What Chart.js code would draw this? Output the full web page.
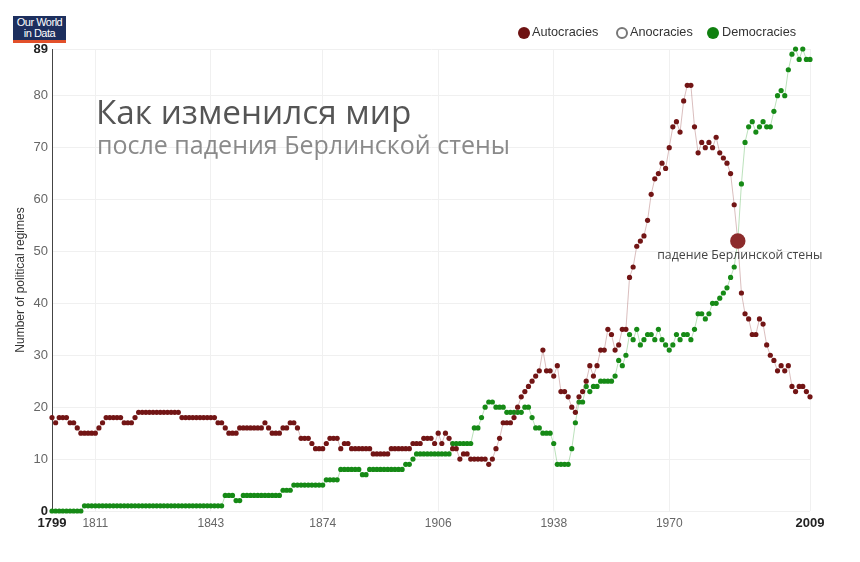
<!DOCTYPE html>
<html>
<head>
<meta charset="utf-8">
<script src="https://cdn.jsdelivr.net/npm/chart.js@4.4.1/dist/chart.umd.min.js"></script>
<title>Political regimes</title>
<style>
  body { margin: 0; background: #fff; }
  #wrap { position: relative; width: 860px; height: 562px; }
  #chart { position: absolute; left: 0; top: 0; }
  .logo { position: absolute; left: 13px; top: 16px; width: 53px; height: 23px; background: #1d2f5e;
          border-bottom: 3px solid #e2502a; color: #fff; font: 11px/10.5px "Liberation Sans", Arial, sans-serif;
          text-align: center; padding-top: 1px; box-sizing: content-box; letter-spacing: -0.5px; }
  .title { position: absolute; left: 96px; top: 88px; font: 33.3px "Open Sans", sans-serif; color: #555; white-space: nowrap; }
  .subtitle { position: absolute; left: 97px; top: 127px; font: 25px "Open Sans", sans-serif; color: #8a8a8a; white-space: nowrap; }
  .leg { position: absolute; top: 25px; font: 12.7px "Liberation Sans", Arial, sans-serif; color: #333; white-space: nowrap; }
  .dot { position: absolute; width: 12px; height: 12px; border-radius: 50%; top: 27px; box-sizing: border-box; }
</style>
</head>
<body>
<div id="wrap">
  <canvas id="chart" width="860" height="562"></canvas>
  <div class="logo">Our World<br>in Data</div>
  <div class="title">Как изменился мир</div>
  <div class="subtitle">после падения Берлинской стены</div>
  <div class="dot" style="left:518px;background:#6e1212;"></div>
  <div class="leg" style="left:532px;">Autocracies</div>
  <div class="dot" style="left:616px;border:2px solid #777;background:#fff;"></div>
  <div class="leg" style="left:630px;">Anocracies</div>
  <div class="dot" style="left:707px;background:#108010;"></div>
  <div class="leg" style="left:722px;">Democracies</div>
</div>
<script>
  const firstYear = 1799;

  // number of regimes per year, 1799 ... 2009
  const autocracies = [
    18,
    17, 18, 18, 18, 17, 17, 16, 15, 15, 15,
    15, 15, 16, 17, 18, 18, 18, 18, 18, 17,
    17, 17, 18, 19, 19, 19, 19, 19, 19, 19,
    19, 19, 19, 19, 19, 18, 18, 18, 18, 18,
    18, 18, 18, 18, 18, 17, 17, 16, 15, 15,
    15, 16, 16, 16, 16, 16, 16, 16, 17, 16,
    15, 15, 15, 16, 16, 17, 17, 16, 14, 14,
    14, 13, 12, 12, 12, 13, 14, 14, 14, 12,
    13, 13, 12, 12, 12, 12, 12, 12, 11, 11,
    11, 11, 11, 12, 12, 12, 12, 12, 12, 13,
    13, 13, 14, 14, 14, 13, 15, 13, 15, 14,
    12, 12, 10, 11, 11, 10, 10, 10, 10, 10,
    9, 10, 12, 14, 17, 17, 17, 18, 20, 22,
    23, 24, 25, 26, 27, 31, 27, 27, 26, 28,
    23, 23, 22, 20, 19, 22, 23, 25, 28, 26,
    28, 31, 31, 35, 34, 31, 32, 35, 35, 45,
    47, 51, 52, 53, 56, 61, 64, 65, 67, 66,
    70, 74, 75, 73, 79, 82, 82, 74, 69, 71,
    70, 71, 70, 72, 69, 68, 67, 65, 59, 52,
    42, 38, 37, 34, 34, 37, 36, 32, 30, 29,
    27, 28, 27, 28, 24, 23, 24, 24, 23, 22
  ];
  const democracies = [
    0,
    0, 0, 0, 0, 0, 0, 0, 0, 1, 1,
    1, 1, 1, 1, 1, 1, 1, 1, 1, 1,
    1, 1, 1, 1, 1, 1, 1, 1, 1, 1,
    1, 1, 1, 1, 1, 1, 1, 1, 1, 1,
    1, 1, 1, 1, 1, 1, 1, 3, 3, 3,
    2, 2, 3, 3, 3, 3, 3, 3, 3, 3,
    3, 3, 3, 4, 4, 4, 5, 5, 5, 5,
    5, 5, 5, 5, 5, 6, 6, 6, 6, 8,
    8, 8, 8, 8, 8, 7, 7, 8, 8, 8,
    8, 8, 8, 8, 8, 8, 8, 9, 9, 10,
    11, 11, 11, 11, 11, 11, 11, 11, 11, 11,
    13, 13, 13, 13, 13, 13, 16, 16, 18, 20,
    21, 21, 20, 20, 20, 19, 19, 19, 19, 19,
    20, 20, 18, 16, 16, 15, 15, 15, 13, 9,
    9, 9, 9, 12, 17, 21, 21, 24, 23, 24,
    24, 25, 25, 25, 25, 26, 29, 28, 30, 34,
    33, 35, 32, 33, 34, 34, 33, 35, 33, 32,
    31, 32, 34, 33, 34, 34, 33, 35, 38, 38,
    37, 38, 40, 40, 41, 42, 43, 45, 47, 52,
    63, 71, 74, 75, 73, 74, 75, 74, 74, 77,
    80, 81, 80, 85, 88, 89, 87, 89, 87, 87
  ];

  const xTickYears = [1799, 1811, 1843, 1874, 1906, 1938, 1970, 2009];
  const yTickValues = [0, 10, 20, 30, 40, 50, 60, 70, 80, 89];
  const eventYear = 1989;
  const eventLabel = 'падение Берлинской стены';

  const toPoints = arr => arr.map((v, i) => ({ x: firstYear + i, y: v }));
  const eventPoint = { x: eventYear, y: autocracies[eventYear - firstYear] };

  const sansFont = '"Liberation Sans", Arial, sans-serif';

  // caption under the big dot
  const eventText = {
    id: 'eventText',
    afterDatasetsDraw(chart) {
      const ctx = chart.ctx;
      const px = chart.scales.x.getPixelForValue(eventPoint.x);
      const py = chart.scales.y.getPixelForValue(eventPoint.y);
      ctx.save();
      ctx.font = '12.3px "Open Sans", sans-serif';
      ctx.fillStyle = '#444';
      ctx.textAlign = 'center';
      ctx.textBaseline = 'middle';
      ctx.fillText(eventLabel, px + 2, py + 14);
      ctx.restore();
    }
  };

  new Chart(document.getElementById('chart'), {
    type: 'line',
    data: {
      datasets: [
        {
          label: 'event',
          data: [eventPoint],
          showLine: false,
          pointRadius: 7.7,
          pointBorderWidth: 0,
          pointBackgroundColor: '#8c2b2b',
          clip: false
        },
        {
          label: 'Autocracies',
          data: toPoints(autocracies),
          borderColor: 'rgba(150, 70, 70, 0.35)',
          borderWidth: 1,
          pointRadius: 2.6,
          pointBorderWidth: 0,
          pointBackgroundColor: '#721515',
          clip: false
        },
        {
          label: 'Democracies',
          data: toPoints(democracies),
          borderColor: 'rgba(60, 170, 60, 0.35)',
          borderWidth: 1,
          pointRadius: 2.6,
          pointBorderWidth: 0,
          pointBackgroundColor: '#168a16',
          clip: false
        }
      ]
    },
    options: {
      responsive: false,
      animation: false,
      devicePixelRatio: 1,
      layout: { padding: { top: 49, right: 50, bottom: 0, left: 0 } },
      plugins: { legend: { display: false }, tooltip: { enabled: false } },
      scales: {
        x: {
          type: 'linear',
          min: 1799,
          max: 2009,
          afterBuildTicks: s => { s.ticks = xTickYears.map(v => ({ value: v })); },
          afterFit: s => { s.height = 51; },
          grid: { color: '#f0f0f0', drawTicks: false },
          border: { display: false },
          ticks: {
            autoSkip: false,
            maxRotation: 0,
            padding: 5,
            callback: v => String(v),
            font: c => {
              const edge = c.tick && (c.tick.value === 1799 || c.tick.value === 2009);
              return { family: sansFont, size: edge ? 13 : 12, weight: edge ? 'bold' : 'normal' };
            },
            color: c => (c.tick && (c.tick.value === 1799 || c.tick.value === 2009)) ? '#222' : '#666'
          }
        },
        y: {
          min: 0,
          max: 89,
          afterBuildTicks: s => { s.ticks = yTickValues.map(v => ({ value: v })); },
          afterFit: s => { s.width = 52; },
          grid: { color: '#f0f0f0', drawTicks: false },
          border: { display: true, color: '#444', width: 1 },
          title: {
            display: true,
            text: 'Number of political regimes',
            color: '#333',
            font: { family: sansFont, size: 12 },
            padding: { top: 13, bottom: 0 }
          },
          ticks: {
            padding: 4,
            callback: v => String(v),
            font: c => {
              const edge = c.tick && (c.tick.value === 0 || c.tick.value === 89);
              return { family: sansFont, size: 13, weight: edge ? 'bold' : 'normal' };
            },
            color: c => (c.tick && (c.tick.value === 0 || c.tick.value === 89)) ? '#222' : '#666'
          }
        }
      }
    },
    plugins: [eventText]
  });
</script>
</body>
</html>
